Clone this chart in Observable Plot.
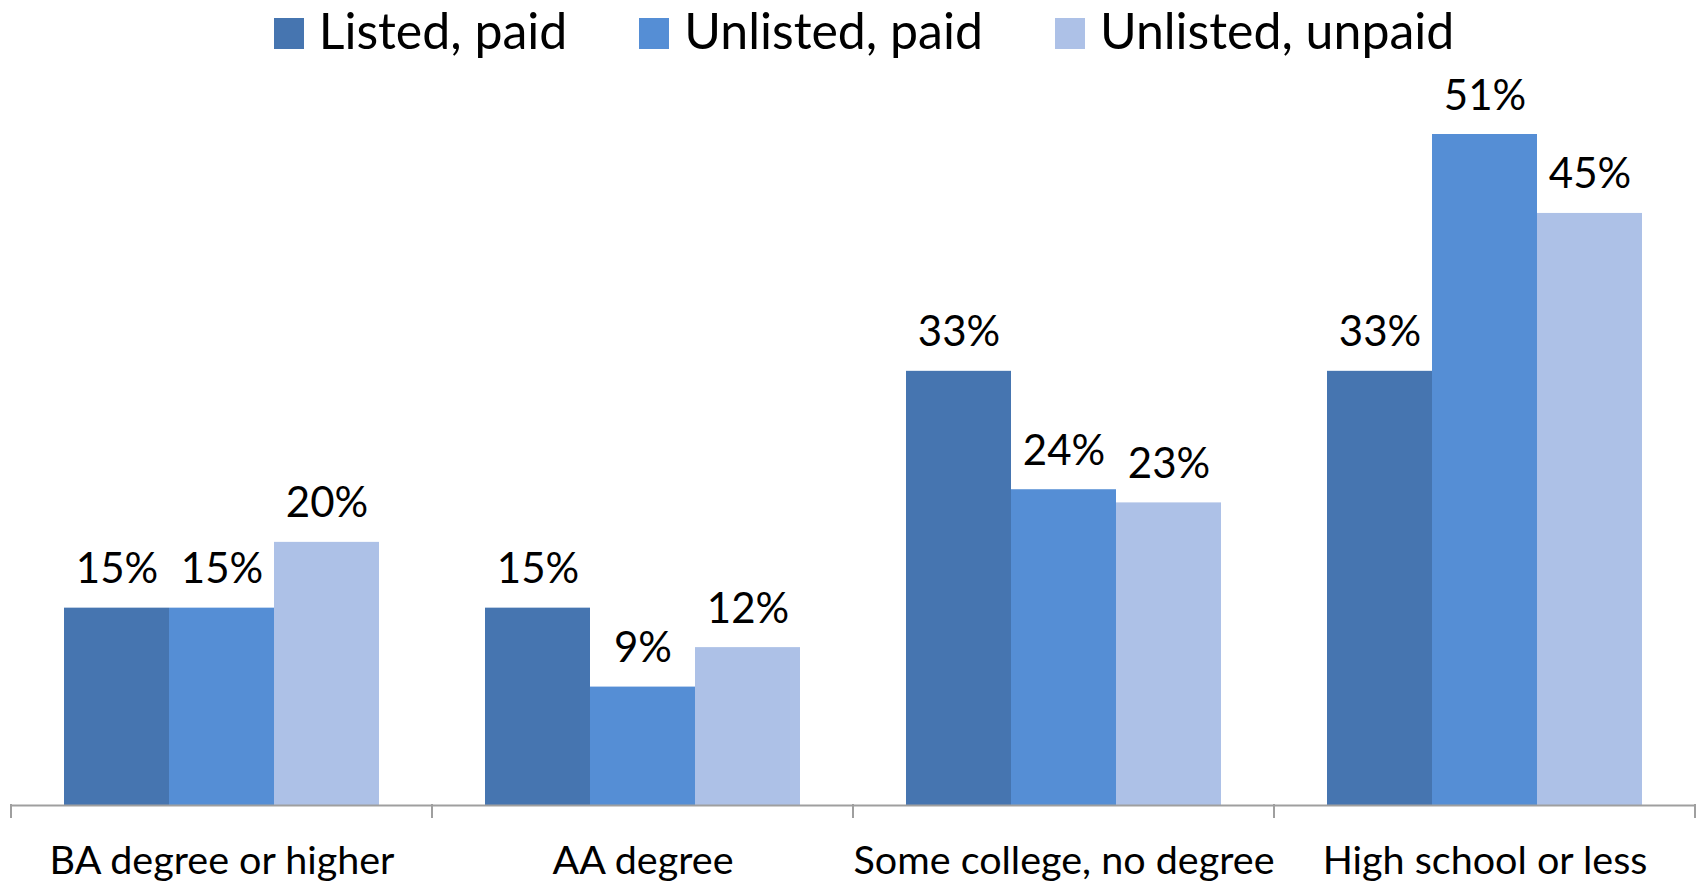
<!DOCTYPE html>
<html><head><meta charset="utf-8">
<script src="https://cdn.jsdelivr.net/npm/d3@7"></script>
<script src="https://cdn.jsdelivr.net/npm/@observablehq/plot@0.6"></script>
<style>
html,body{margin:0;padding:0;background:#fff;}
body{width:1698px;height:881px;overflow:hidden;font-family:Lato,sans-serif;}
#legend{height:70px;box-sizing:border-box;padding-top:5px;padding-left:30px;display:flex;justify-content:center;font-size:50px;line-height:50px;color:#000;white-space:nowrap;}
.item{display:inline-block;margin:0 36px;}
.sw{display:inline-block;width:30px;height:31px;margin-right:15px;vertical-align:baseline;}
#chart svg{display:block;}
</style></head><body>
<div id="legend"></div>
<div id="chart"></div>
<script>
const categories = ["BA degree or higher", "AA degree", "Some college, no degree", "High school or less"];
const series = ["Listed, paid", "Unlisted, paid", "Unlisted, unpaid"];
const listedPaid = [15, 15, 33, 33];
const unlistedPaid = [15, 9, 24, 51];
const unlistedUnpaid = [20, 12, 23, 45];
const colors = ["#4675B0", "#558ED5", "#ADC1E7"];

const seriesValues = [listedPaid, unlistedPaid, unlistedUnpaid];
const data = categories.flatMap((c, i) => series.map((s, j) => ({category: c, series: s, value: seriesValues[j][i]})));

// legend
const legend = document.getElementById("legend");
series.forEach((s, j) => {
  const it = document.createElement("span");
  it.className = "item";
  const sw = document.createElement("span");
  sw.className = "sw";
  sw.style.background = colors[j];
  it.appendChild(sw);
  it.appendChild(document.createTextNode(s));
  legend.appendChild(it);
});

const chart = Plot.plot({
  width: 1698,
  height: 811,
  marginLeft: 11,
  marginRight: 3,
  marginTop: 64,
  marginBottom: 76,
  style: {fontFamily: "Lato, sans-serif", background: "#fff", color: "#000"},
  fx: {domain: categories, padding: 0, label: null},
  x: {domain: series, paddingInner: 0, paddingOuter: 0.5, axis: null},
  y: {domain: [0, 51], axis: null},
  color: {domain: series, range: colors},
  marks: [
    Plot.barY(data, {fx: "category", x: "series", y: "value", fill: "series"}),
    Plot.text(data, {fx: "category", x: "series", y: "value", text: d => d.value + "%", dy: -25, lineAnchor: "bottom", fontSize: 42, fill: "#000"}),
    Plot.ruleY([0], {stroke: "#9f9f9f", strokeWidth: 2}),
    Plot.axisFx({anchor: "bottom", tickSize: 0, tickPadding: 40, fontSize: 39.5, label: null})
  ]
});
document.getElementById("chart").appendChild(chart);

// boundary ticks between categories, from Plot's fx and y scales
const fx = chart.scale("fx");
const y0 = chart.scale("y").apply(0);
const bounds = categories.map(c => fx.apply(c)).concat([fx.apply(categories[categories.length - 1]) + fx.step]);
const svg = d3.select(chart.tagName.toLowerCase() === "svg" ? chart : chart.querySelector("svg"));
svg.append("g").selectAll("line").data(bounds).join("line")
  .attr("x1", d => d).attr("x2", d => d)
  .attr("y1", y0 - 1).attr("y2", y0 + 13)
  .attr("stroke", "#9f9f9f").attr("stroke-width", 2);
</script>
</body></html>
